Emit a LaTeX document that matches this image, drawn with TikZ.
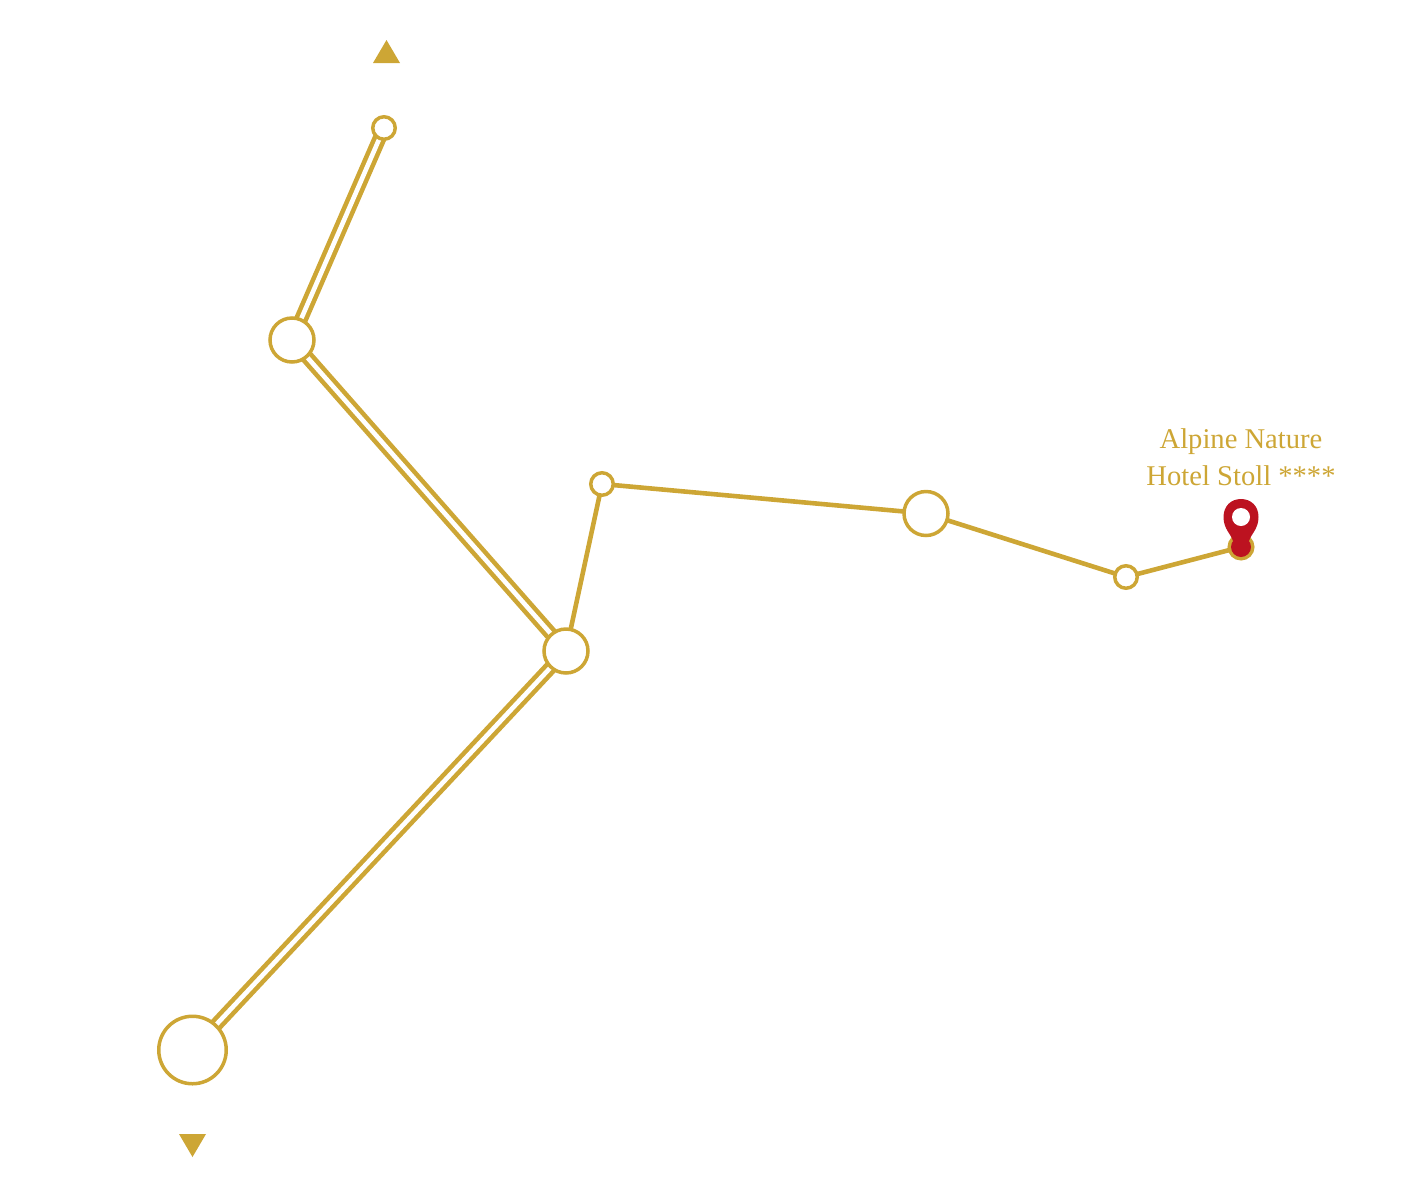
\documentclass[tikz,border=0pt]{standalone}
\usepackage{fontspec}
\setmainfont{Liberation Serif}
\usetikzlibrary{backgrounds}
\definecolor{routegold}{HTML}{CDA635}
\definecolor{pinred}{HTML}{BC1220}
\tikzset{
 stop/.style={circle, draw=routegold, fill=white, line width=3.5pt, inner sep=0pt, outer sep=0pt, minimum size=#1},
 track/.style={routegold, line width=4.6pt},
 railway/.style={routegold, line width=4.6pt, double=white, double distance=4.6pt},
 arrowmark/.style={fill=routegold, draw=none},
 hotellabel/.style={text=routegold, font=\fontsize{28.6pt}{37pt}\selectfont, align=center}
}

\begin{document}
\begin{tikzpicture}[x=1pt, y=-1pt]
 \useasboundingbox (0,0) rectangle (1408,1200);

 % stops along the route
 \node[stop=22.5pt] (summit) at (384,128) {};
 \node[stop=44pt] (upper) at (292,340) {};
 \node[stop=44pt] (junction) at (566,651) {};
 \node[stop=67.5pt] (valley) at (192.5,1050) {};
 \node[stop=22.5pt] (bend) at (602,484) {};
 \node[stop=44pt] (village) at (926,513.5) {};
 \node[stop=22.5pt] (lane) at (1126,577) {};
 \node[stop=23pt, line width=4pt] (hotel) at (1241,547) {};

 \begin{scope}[on background layer]
  \foreach \a/\b in {summit/upper, upper/junction, junction/valley} {
   \draw[railway] (\a.center) -- (\b.center);
  }
  \foreach \a/\b in {junction/bend, bend/village, village/lane, lane/hotel} {
   \draw[track] (\a.center) -- (\b.center);
  }
 \end{scope}

 % direction marks
 \fill[arrowmark] (373,63) -- (400,63) -- (386.5,40) -- cycle;
 \fill[arrowmark] (179,1134) -- (206,1134) -- (192.5,1157) -- cycle;

 % pin on the hotel
 \fill[pinred] (1241,547) circle (10);
 \fill[pinred] (1233,541) .. controls (1231,534) and (1223.5,529) .. (1223.5,517)
  .. controls (1223.5,506) and (1231,499) .. (1241,499)
  .. controls (1251,499) and (1258.5,506) .. (1258.5,517)
  .. controls (1258.5,529) and (1251,534) .. (1249,541) -- cycle;
 \fill[white] (1241,517) circle (9);

 \node[hotellabel] (hotelname) at (1241,457) {Alpine Nature\\Hotel Stoll ****};
\end{tikzpicture}
\end{document}
